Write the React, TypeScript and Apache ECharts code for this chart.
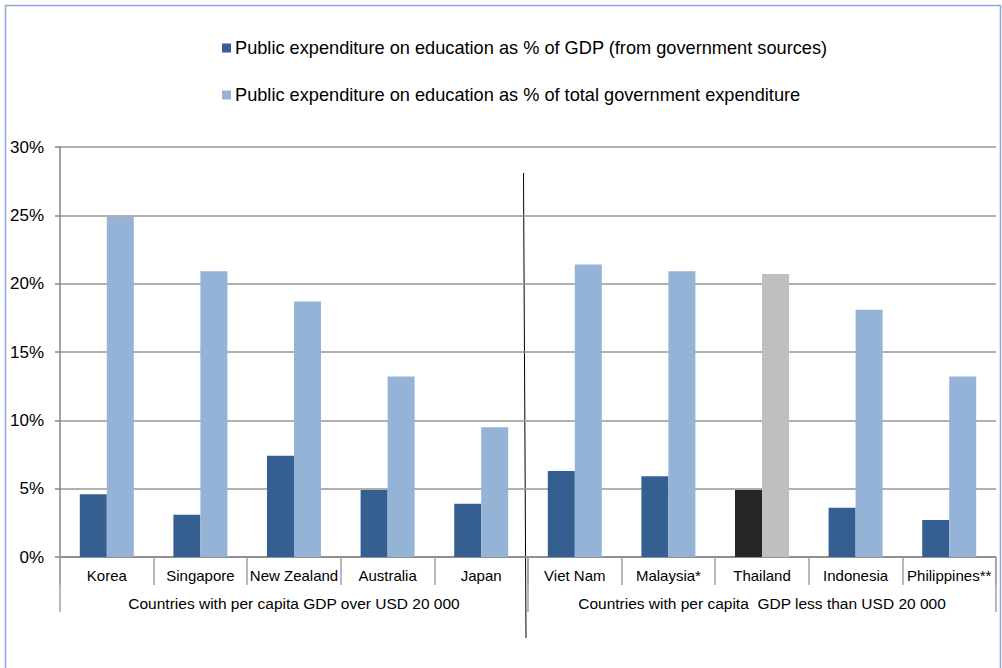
import React, { useEffect, useRef } from "react";
import * as echarts from "echarts";

const countries = ["Korea", "Singapore", "New Zealand", "Australia", "Japan", "Viet Nam", "Malaysia*", "Thailand", "Indonesia", "Philippines**"];
const groups = ["Countries with per capita GDP over USD 20 000", "Countries with per capita  GDP less than USD 20 000"];
const gdpShare = [4.6, 3.1, 7.4, 4.9, 3.9, 6.3, 5.9, 4.9, 3.6, 2.7];
const govShare = [24.9, 20.9, 18.7, 13.2, 9.5, 21.4, 20.9, 20.7, 18.1, 13.2];
const seriesNames = [
  "Public expenditure on education as % of GDP (from government sources)",
  "Public expenditure on education as % of total government expenditure",
];
const highlightCountry = "Thailand";

const DARK = "#355f91";
const LIGHT = "#95b3d7";
const HL_DARK = "#262626";
const HL_LIGHT = "#bfbfbf";
const FONT = "Liberation Sans, Arial, sans-serif";

export default function App() {
  const ref = useRef<HTMLDivElement>(null);
  useEffect(() => {
    const chart = echarts.init(ref.current!, undefined, { renderer: "svg" });
    const mk = (vals: number[], hl: string) =>
      vals.map((v, i) =>
        countries[i] === highlightCountry ? { value: v, itemStyle: { color: hl } } : v
      );
    chart.setOption({
      animation: false,
      textStyle: { fontFamily: FONT },
      graphic: [
        {
          type: "rect",
          shape: { x: 5.5, y: 5.5, width: 995, height: 700 },
          style: { fill: "none", stroke: "#8aa7d6", lineWidth: 1.5 },
          silent: true,
        },
        {
          type: "line",
          shape: { x1: 523.5, y1: 173, x2: 526, y2: 638 },
          style: { stroke: "#000", lineWidth: 1 },
          silent: true,
        },
      ],
      legend: {
        orient: "vertical",
        left: 217,
        top: 34,
        itemWidth: 9,
        itemHeight: 9,
        itemGap: 29,
        icon: "rect",
        textStyle: { fontSize: 18.2, color: "#000", fontFamily: FONT, lineHeight: 18, padding: [0, 0, 0, -1] },
        data: seriesNames,
      },
      grid: { left: 60, right: 6, top: 147, bottom: 111, containLabel: false },
      xAxis: [
        {
          type: "category",
          data: countries,
          position: "bottom",
          axisLine: { show: true, lineStyle: { color: "#868686", width: 1.5 } },
          axisTick: { show: true, alignWithLabel: false, length: 28, lineStyle: { color: "#a0a0a0", width: 1.5 } },
          axisLabel: { color: "#000", fontSize: 15, margin: 11, fontFamily: FONT, interval: 0 },
        },
        {
          type: "category",
          data: groups,
          position: "bottom",
          axisLine: { show: false },
          axisTick: { show: true, length: 55, lineStyle: { color: "#a0a0a0", width: 1.5 } },
          axisLabel: { color: "#000", fontSize: 15.5, margin: 38, fontFamily: FONT, interval: 0 },
        },
      ],
      yAxis: {
        type: "value",
        min: 0,
        max: 30,
        interval: 5,
        axisLine: { show: true, lineStyle: { color: "#868686", width: 1.5 } },
        axisTick: { show: true, length: 5, lineStyle: { color: "#868686", width: 1.5 } },
        splitLine: { show: true, lineStyle: { color: "#969696", width: 1.5 } },
        axisLabel: { color: "#000", fontSize: 17, margin: 16, fontFamily: FONT, formatter: "{value}%" },
      },
      series: [
        {
          name: seriesNames[0],
          type: "bar",
          xAxisIndex: 0,
          barWidth: 27,
          barGap: "0%",
          itemStyle: { color: DARK },
          data: mk(gdpShare, HL_DARK),
        },
        {
          name: seriesNames[1],
          type: "bar",
          xAxisIndex: 0,
          barWidth: 27,
          barGap: "0%",
          itemStyle: { color: LIGHT },
          data: mk(govShare, HL_LIGHT),
        },
      ],
    });
    return () => chart.dispose();
  }, []);
  return (
    <div
      ref={ref}
      style={{ position: "absolute", left: 0, top: 0, width: 1002, height: 668, background: "#fff" }}
    />
  );
}
